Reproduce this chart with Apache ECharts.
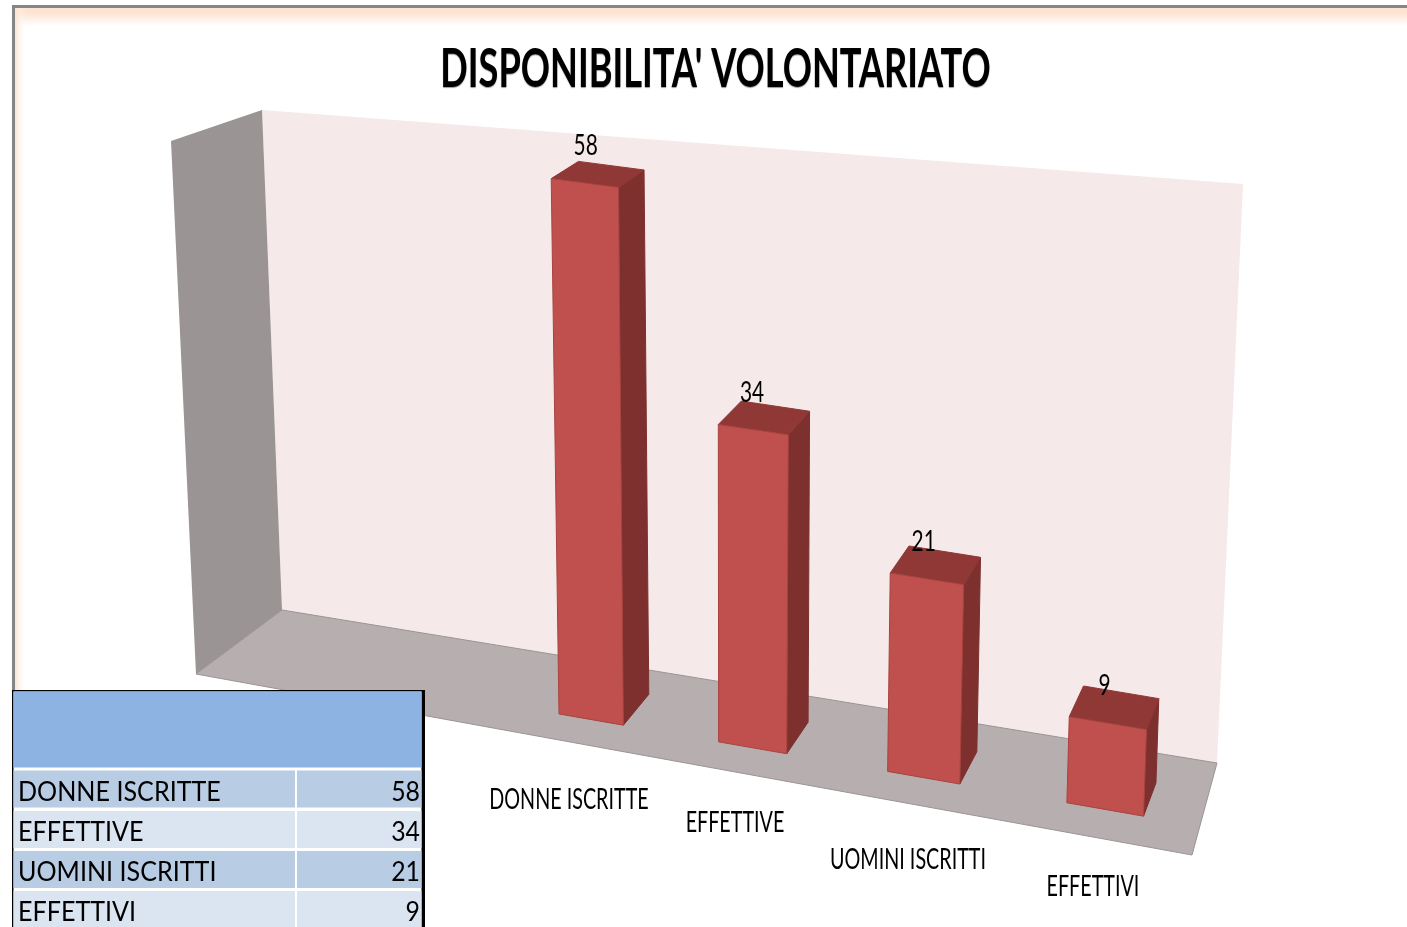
<!DOCTYPE html>
<html>
<head>
<meta charset="utf-8">
<title>Disponibilita' volontariato</title>
<style>
  html, body { margin: 0; padding: 0; background: #fff; }
  #main { width: 1407px; height: 927px; }
</style>
<script src="https://cdn.jsdelivr.net/npm/echarts@6/dist/echarts.min.js"></script>
</head>
<body>
<div id="main"></div>
<script>
const titleText = "DISPONIBILITA' VOLONTARIATO";
const categories = ['DONNE ISCRITTE', 'EFFETTIVE', 'UOMINI ISCRITTI', 'EFFETTIVI'];
const values = [58, 34, 21, 9];

const FONT = 'Lato, "Open Sans", sans-serif';
const GRID = { left: 500, top: 100, width: 700, height: 600 };
const Y_MAX = 60;
const BAR_WIDTH = 0.41;

// where the flat grid corners land in the tilted picture
const CORNER_BL = [513.6, 706], CORNER_BR = [1199.9, 826];
const CORNER_TR = [1222, 247], CORNER_TL = [503.4, 154];
const WARP = 0.1237;
const VANISH = [1640, -510];
const DEPTH = 0.025;

// excel moved the labels around a bit, these follow it
const LABEL_DX = [-22, -17.5, -15.5, -12];
const LABEL_DY = [80, 75, 82, 78];
const VALUE_DX = [1, -1, -3, -3];

function lerp(a, b, t) {
  return [a[0] + (b[0] - a[0]) * t, a[1] + (b[1] - a[1]) * t];
}

// flat grid pixel -> picture pixel
function project(p) {
  const s = (p[0] - GRID.left) / GRID.width;
  const r = (GRID.top + GRID.height - p[1]) / GRID.height;
  const w = s / (1 + WARP - WARP * s);
  return lerp(lerp(CORNER_BL, CORNER_BR, w), lerp(CORNER_TL, CORNER_TR, w), r);
}

function back(p) {
  return lerp(p, VANISH, DEPTH);
}

function poly(points, fill, stroke) {
  return {
    type: 'polygon',
    shape: { points: points },
    style: { fill: fill, stroke: stroke || fill, lineWidth: 1 }
  };
}

function renderBar(params, api) {
  const i = api.value(0);
  const v = api.value(1);
  const half = api.size([1, 0])[0] * BAR_WIDTH / 2;
  const top = api.coord([i, v]);
  const base = api.coord([i, 0]);

  const fbl = project([base[0] - half, base[1]]);
  const fbr = project([base[0] + half, base[1]]);
  const ftl = project([top[0] - half, top[1]]);
  const ftr = project([top[0] + half, top[1]]);
  const midTop = project(top);
  const midBase = project(base);

  return {
    type: 'group',
    children: [
      poly([fbr, back(fbr), back(ftr), ftr], '#7D302E'),
      poly([ftl, ftr, back(ftr), back(ftl)], '#8F3836'),
      poly([fbl, fbr, ftr, ftl], '#C0504D', '#A8433F'),
      {
        type: 'text',
        x: midTop[0] + VALUE_DX[i],
        y: midTop[1] - 37,
        scaleX: 0.72,
        style: {
          text: String(v),
          fontFamily: FONT,
          fontSize: 29,
          fill: '#000',
          align: 'center',
          verticalAlign: 'middle'
        }
      },
      {
        type: 'text',
        x: midBase[0] + LABEL_DX[i],
        y: midBase[1] + LABEL_DY[i],
        scaleX: 0.705,
        style: {
          text: categories[i],
          fontFamily: FONT,
          fontSize: 28,
          fill: '#000',
          align: 'center',
          verticalAlign: 'middle'
        }
      }
    ]
  };
}

function frameGraphics() {
  const out = [];
  // peach glow inside the chart frame
  out.push({
    type: 'rect', z: 1, shape: { x: 15, y: 8, width: 1392, height: 18 },
    style: { fill: new echarts.graphic.LinearGradient(0, 0, 0, 1, [
      { offset: 0, color: '#FDE2CF' }, { offset: 0.3, color: '#FDE5D4' }, { offset: 1, color: '#FFFFFF' }
    ]) }
  });
  out.push({
    type: 'rect', z: 1, shape: { x: 15, y: 8, width: 11, height: 700 },
    style: { fill: new echarts.graphic.LinearGradient(0, 0, 1, 0, [
      { offset: 0, color: '#FDE2CF' }, { offset: 1, color: 'rgba(255,255,255,0)' }
    ]) }
  });
  out.push({ type: 'rect', z: 2, shape: { x: 12, y: 5, width: 1395, height: 3 }, style: { fill: '#868686' } });
  out.push({ type: 'rect', z: 2, shape: { x: 12, y: 5, width: 3, height: 700 }, style: { fill: '#868686' } });

  // walls and floor of the 3d box
  out.push({
    type: 'polygon', z: 3, shape: { points: [[262, 110], [1243, 184], [1217, 763], [282, 610]] },
    style: { fill: '#F5E9E9' }
  });
  out.push({
    type: 'polygon', z: 3, shape: { points: [[171, 141], [262, 110], [282, 610], [196, 674]] },
    style: { fill: '#9A9494' }
  });
  out.push({
    type: 'polygon', z: 3, shape: { points: [[196, 674], [282, 610], [1217, 763], [1192, 855]] },
    style: { fill: '#B7AFAF', stroke: '#9A9595', lineWidth: 1 }
  });
  out.push({
    type: 'text', z: 4, x: 715.5, y: 69.5, scaleX: 0.67,
    style: {
      text: titleText,
      fontFamily: FONT,
      fontWeight: 'bold',
      fontSize: 54,
      fill: '#000',
      align: 'center',
      verticalAlign: 'middle',
      textShadowColor: 'rgba(0,0,0,0.4)',
      textShadowOffsetX: 0,
      textShadowOffsetY: 1,
      textShadowBlur: 1
    }
  });
  return out;
}

function tableGraphics() {
  const out = [];
  const rowTop = [770.5, 811, 851, 891];
  const rowBottom = [807.5, 848, 888, 927];
  const dark = '#B8CCE4', light = '#DBE5F1';

  out.push({ type: 'rect', z: 20, shape: { x: 12, y: 690, width: 413, height: 237 }, style: { fill: '#000' } });
  out.push({ type: 'rect', z: 21, shape: { x: 13.5, y: 691.5, width: 408, height: 235.5 }, style: { fill: '#fff' } });
  out.push({ type: 'rect', z: 22, shape: { x: 13.5, y: 691.5, width: 408, height: 76 }, style: { fill: '#8DB3E2' } });

  categories.forEach(function (name, i) {
    const fill = i % 2 === 0 ? dark : light;
    const h = rowBottom[i] - rowTop[i];
    const mid = (rowBottom[i] + rowTop[i]) / 2 + 3;
    out.push({ type: 'rect', z: 22, shape: { x: 13.5, y: rowTop[i], width: 281.5, height: h }, style: { fill: fill } });
    out.push({ type: 'rect', z: 22, shape: { x: 297, y: rowTop[i], width: 124.5, height: h }, style: { fill: fill } });
    out.push({
      type: 'text', z: 23, x: 18, y: mid, scaleX: 0.93,
      style: { text: name, fontFamily: FONT, fontSize: 27, fill: '#000', align: 'left', verticalAlign: 'middle' }
    });
    out.push({
      type: 'text', z: 23, x: 420, y: mid, scaleX: 0.92,
      style: { text: String(values[i]), fontFamily: FONT, fontSize: 27, fill: '#000', align: 'right', verticalAlign: 'middle' }
    });
  });
  return out;
}

const chart = echarts.init(document.getElementById('main'), null, { renderer: 'canvas' });

chart.setOption({
  animation: false,
  backgroundColor: '#fff',
  grid: GRID,
  xAxis: { type: 'category', data: categories, show: false },
  yAxis: { type: 'value', min: 0, max: Y_MAX, show: false },
  graphic: { elements: frameGraphics().concat(tableGraphics()) },
  series: [{
    type: 'custom',
    z: 10,
    clip: false,
    silent: true,
    renderItem: renderBar,
    encode: { x: 0, y: 1 },
    data: values.map(function (v, i) { return [i, v]; })
  }]
});
</script>
</body>
</html>
